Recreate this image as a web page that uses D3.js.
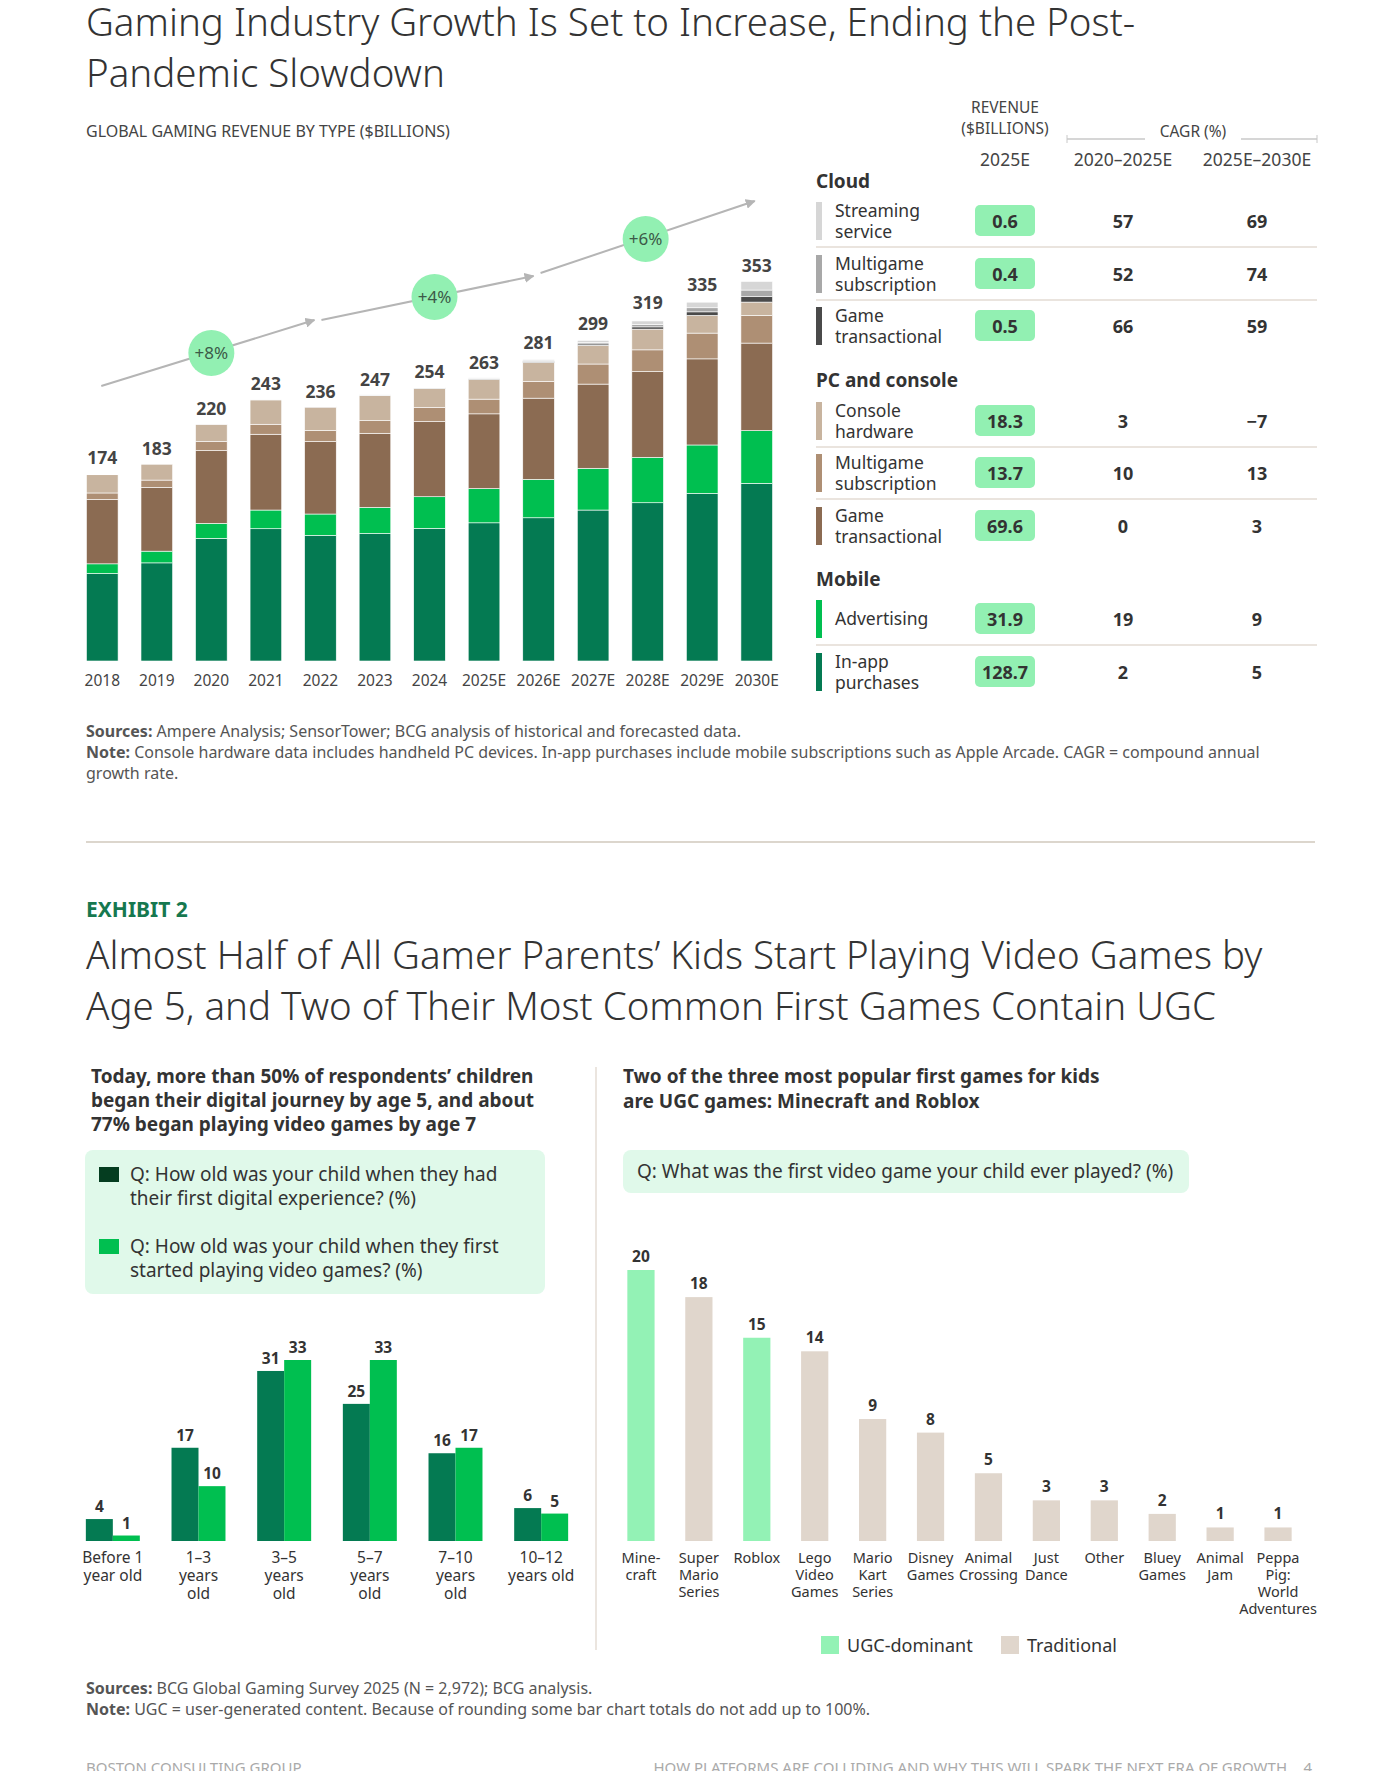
<!DOCTYPE html>
<html>
<head>
<meta charset="utf-8">
<script src="https://cdn.jsdelivr.net/npm/d3@7"></script>
<style>
  body { margin: 0; background: #fff; }
  text { font-family: "Noto Sans", sans-serif; }
</style>
</head>
<body>
<script>
// ---- exhibit 1: stacked revenue bars ----
var years = ["2018","2019","2020","2021","2022","2023","2024","2025E","2026E","2027E","2028E","2029E","2030E"];
var totals = [174,183,220,243,236,247,254,263,281,299,319,335,353];
var inApp      = [81.5,91.4,114.2,123.2,117,118.8,123.5,128.7,133.4,140.6,147.4,156.1,165.5];
var advertising= [9,10.9,14,17.4,19.9,24.3,29.5,31.9,35.8,38.9,42.3,45.1,49.1];
var pcGame     = [60,59.4,67.8,70.6,67.5,69,70,69.6,75.6,78.4,79.9,80.2,81.5];
var pcMulti    = [6,6.8,8.4,9.3,10.3,11.8,13.1,13.7,15.6,18.7,20.2,24,25.8];
var consoleHw  = [17,14.9,16.2,22.7,21.8,23.3,17.7,18.3,17.7,17.4,19.3,16.5,12.4];
var cloudGame  = [0,0,0.05,0.1,0.15,0.2,0.3,0.5,0.8,1.3,2.1,3.3,5];
var cloudMulti = [0,0,0.05,0.1,0.15,0.2,0.3,0.4,0.7,1.3,2.3,3.8,6.2];
var cloudStream= [0.05,0.05,0.06,0.1,0.2,0.3,0.4,0.6,1.1,2.0,3.2,5.2,8];
var growthLabels = ["+8%","+4%","+6%"];

// table
var tableGroups = ["Cloud","PC and console","Mobile"];
var tableNames = [["Streaming","service"],["Multigame","subscription"],["Game","transactional"],
  ["Console","hardware"],["Multigame","subscription"],["Game","transactional"],
  ["Advertising"],["In-app","purchases"]];
var tableGroupOf = [0,0,0,1,1,1,2,2];
var revenue2025 = ["0.6","0.4","0.5","18.3","13.7","69.6","31.9","128.7"];
var cagr2020 = ["57","52","66","3","10","0","19","2"];
var cagr2025 = ["69","74","59","\u22127","13","3","9","5"];

// ---- exhibit 2 ----
var ageGroups = [["Before 1","year old"],["1\u20133","years","old"],["3\u20135","years","old"],["5\u20137","years","old"],["7\u201310","years","old"],["10\u201312","years old"]];
var firstDigital = [4,17,31,25,16,6];
var firstGame = [1,10,33,33,17,5];

var games = [["Mine-","craft"],["Super","Mario","Series"],["Roblox"],["Lego","Video","Games"],["Mario","Kart","Series"],["Disney","Games"],["Animal","Crossing"],["Just","Dance"],["Other"],["Bluey","Games"],["Animal","Jam"],["Peppa","Pig:","World","Adventures"]];
var gameShare = [20,18,15,14,9,8,5,3,3,2,1,1];
var gameType = ["UGC","Trad","UGC","Trad","Trad","Trad","Trad","Trad","Trad","Trad","Trad","Trad"];

var W = 1400, H = 1771;
var svg = d3.select("body").append("svg").attr("width", W).attr("height", H).attr("fill", "#333");

function multiline(g, lines, x, y, lh, attrs) {
  var t = g.append("text").attr("x", x).attr("y", y);
  for (var k in attrs) t.attr(k, attrs[k]);
  lines.forEach(function(l, i){
    t.append("tspan").attr("x", x).attr("dy", i ? lh : 0).text(l);
  });
  return t;
}

// titles
multiline(svg, ["Gaming Industry Growth Is Set to Increase, Ending the Post-","Pandemic Slowdown"], 86, 36, 51,
  {"font-size": 38.5, "font-weight": 300, "fill": "#333"});
svg.append("text").attr("x", 86).attr("y", 137).attr("font-size", 16).attr("fill", "#444")
  .text("GLOBAL GAMING REVENUE BY TYPE ($BILLIONS)");

// stacked bars
var segColors = ["#047a52","#00bf50","#8b6b52","#ae8f74","#c8b49f","#4a4a4a","#a8a8a8","#d6d6d6"];
var series = [inApp, advertising, pcGame, pcMulti, consoleHw, cloudGame, cloudMulti, cloudStream];
var x = d3.scaleBand().domain(years).range([75, 784]).paddingInner(0.42).paddingOuter(0.21);
var y = d3.scaleLinear().domain([0, 353]).range([661, 282]);
var rows = years.map(function(yr, i){
  var r = {year: yr}; series.forEach(function(s, j){ r["s"+j] = s[i]; }); return r;
});
var stack = d3.stack().keys(series.map(function(s, j){ return "s"+j; }))(rows);
svg.append("g").selectAll("g").data(stack).join("g")
  .attr("fill", function(d, j){ return segColors[j]; })
  .selectAll("rect").data(function(d){ return d; }).join("rect")
  .attr("x", function(d){ return x(d.data.year); })
  .attr("width", x.bandwidth())
  .attr("y", function(d){ return y(d[1]); })
  .attr("height", function(d){ return Math.max(0, y(d[0]) - y(d[1])); })
  .attr("stroke", "#fff").attr("stroke-width", 0.6);

svg.append("g").selectAll("text").data(years).join("text")
  .attr("x", function(d){ return x(d) + x.bandwidth()/2; })
  .attr("y", function(d, i){ return y(totals[i]) - 10; })
  .attr("text-anchor", "middle").attr("font-size", 17.5).attr("font-weight", 700).attr("fill", "#444")
  .text(function(d, i){ return totals[i]; });

var xAxis = svg.append("g").attr("transform", "translate(0,661)")
  .call(d3.axisBottom(x).tickSize(0).tickPadding(14));
xAxis.select(".domain").remove();
xAxis.selectAll("text").attr("font-size", 15.5).attr("fill", "#444").style("font-family", "Noto Sans");

// growth arrows
var cx = function(yr){ return x(yr) + x.bandwidth()/2; };
var arrowSegs = [
  [cx("2018") - 1, 386, cx("2022") - 6, 320],
  [cx("2022") + 1, 320, cx("2026E") - 5, 276],
  [cx("2026E") + 2, 273, cx("2030E") - 2, 201]
];
var defs = svg.append("defs");
defs.append("marker").attr("id", "ah").attr("viewBox", "0 0 10 10").attr("refX", 9).attr("refY", 5)
  .attr("markerWidth", 5).attr("markerHeight", 5).attr("orient", "auto")
  .append("path").attr("d", "M0,0L10,5L0,10z").attr("fill", "#b5b5b5");
svg.append("g").selectAll("line").data(arrowSegs).join("line")
  .attr("x1", function(d){ return d[0]; }).attr("y1", function(d){ return d[1]; })
  .attr("x2", function(d){ return d[2]; }).attr("y2", function(d){ return d[3]; })
  .attr("stroke", "#b5b5b5").attr("stroke-width", 2).attr("marker-end", "url(#ah)");
var circ = [[cx("2020"), 353], [cx("2024") + 5, 297], [cx("2028E") - 2, 239]];
var cg = svg.append("g").selectAll("g").data(circ).join("g")
  .attr("transform", function(d){ return "translate(" + d[0] + "," + d[1] + ")"; });
cg.append("circle").attr("r", 23).attr("fill", "#92f0b2");
cg.append("text").attr("text-anchor", "middle").attr("dy", 6).attr("font-size", 17).attr("fill", "#3c5a48")
  .text(function(d, i){ return growthLabels[i]; });

// table
var tb = svg.append("g");
var colRev = 1005, colA = 1123, colB = 1257;
multiline(tb, ["REVENUE","($BILLIONS)"], colRev, 113, 21, {"font-size": 15.5, "text-anchor": "middle", "fill": "#444"});
tb.append("text").attr("x", 1193).attr("y", 137).attr("font-size", 15.5).attr("text-anchor", "middle").attr("fill", "#444").text("CAGR (%)");
[[1067,1145],[1241,1317]].forEach(function(s){
  tb.append("line").attr("x1", s[0]).attr("x2", s[1]).attr("y1", 139).attr("y2", 139).attr("stroke", "#c8c8c8").attr("stroke-width", 1.5);
});
[1067,1317].forEach(function(v){
  tb.append("line").attr("x1", v).attr("x2", v).attr("y1", 135).attr("y2", 143).attr("stroke", "#c8c8c8");
});
[["2025E", colRev], ["2020\u20132025E", colA], ["2025E\u20132030E", colB]].forEach(function(h){
  tb.append("text").attr("x", h[1]).attr("y", 166).attr("text-anchor", "middle").attr("font-size", 17.5).attr("fill", "#444").text(h[0]);
});
var groupY = [181, 380, 579];
tableGroups.forEach(function(gname, i){
  tb.append("text").attr("x", 816).attr("y", groupY[i] + 7).attr("font-size", 19).attr("font-weight", 700).attr("fill", "#333").text(gname);
});
var rowY = [221, 274, 326, 421, 473, 526, 619, 672];
var keyColors = ["#d6d6d6","#a8a8a8","#4a4a4a","#c8b49f","#ae8f74","#8b6b52","#00bf50","#047a52"];
tableNames.forEach(function(n, i){
  var cy = rowY[i];
  tb.append("rect").attr("x", 816).attr("y", cy - 19).attr("width", 6).attr("height", 38).attr("fill", keyColors[i]);
  if (n.length === 2) multiline(tb, n, 835, cy - 4, 21, {"font-size": 17.5, "fill": "#333"});
  else tb.append("text").attr("x", 835).attr("y", cy + 6).attr("font-size", 17.5).attr("fill", "#333").text(n[0]);
  tb.append("rect").attr("x", 975).attr("y", cy - 16).attr("width", 60).attr("height", 31).attr("rx", 5).attr("fill", "#92f0b2");
  tb.append("text").attr("x", colRev).attr("y", cy + 7).attr("text-anchor", "middle").attr("font-size", 18).attr("font-weight", 700).attr("fill", "#333").text(revenue2025[i]);
  tb.append("text").attr("x", colA).attr("y", cy + 7).attr("text-anchor", "middle").attr("font-size", 18).attr("font-weight", 700).attr("fill", "#333").text(cagr2020[i]);
  tb.append("text").attr("x", colB).attr("y", cy + 7).attr("text-anchor", "middle").attr("font-size", 18).attr("font-weight", 700).attr("fill", "#333").text(cagr2025[i]);
  if (i < tableNames.length - 1 && tableGroupOf[i] === tableGroupOf[i+1])
    tb.append("line").attr("x1", 816).attr("x2", 1317).attr("y1", cy + 26).attr("y2", cy + 26).attr("stroke", "#e3dbd3").attr("stroke-width", 1.5);
});

// notes
function note(yy, bold, rest) {
  var t = svg.append("text").attr("x", 86).attr("y", yy).attr("font-size", 16).attr("fill", "#555");
  if (bold) t.append("tspan").attr("font-weight", 700).text(bold);
  t.append("tspan").text(rest);
}
note(737, "Sources: ", "Ampere Analysis; SensorTower; BCG analysis of historical and forecasted data.");
note(758, "Note: ", "Console hardware data includes handheld PC devices. In-app purchases include mobile subscriptions such as Apple Arcade. CAGR = compound annual");
note(779, "", "growth rate.");
svg.append("line").attr("x1", 86).attr("x2", 1315).attr("y1", 842).attr("y2", 842).attr("stroke", "#dcd6cd").attr("stroke-width", 2);

// exhibit 2 titles
svg.append("text").attr("x", 86).attr("y", 917).attr("font-size", 21).attr("font-weight", 700).attr("fill", "#16784f").text("EXHIBIT 2");
multiline(svg, ["Almost Half of All Gamer Parents\u2019 Kids Start Playing Video Games by","Age 5, and Two of Their Most Common First Games Contain UGC"], 86, 969, 51,
  {"font-size": 38.5, "font-weight": 300, "fill": "#333"});

// left panel
multiline(svg, ["Today, more than 50% of respondents\u2019 children","began their digital journey by age 5, and about","77% began playing video games by age 7"], 91, 1083, 24,
  {"font-size": 19, "font-weight": 700, "fill": "#333"});
svg.append("rect").attr("x", 85).attr("y", 1150).attr("width", 460).attr("height", 144).attr("rx", 8).attr("fill", "#e0f9ea");
svg.append("rect").attr("x", 99).attr("y", 1167).attr("width", 20).attr("height", 15).attr("fill", "#053d20");
svg.append("rect").attr("x", 99).attr("y", 1239).attr("width", 20).attr("height", 15).attr("fill", "#00bf50");
multiline(svg, ["Q: How old was your child when they had","their first digital experience? (%)"], 130, 1181, 24, {"font-size": 19, "fill": "#333"});
multiline(svg, ["Q: How old was your child when they first","started playing video games? (%)"], 130, 1253, 24, {"font-size": 19, "fill": "#333"});

var ageKeys = ageGroups.map(function(d){ return d.join(" "); });
var x0 = d3.scaleBand().domain(ageKeys).range([70, 584]).paddingInner(0.37).paddingOuter(0.185);
var x1 = d3.scaleBand().domain(["a","b"]).range([0, x0.bandwidth()]);
var yl = d3.scaleLinear().domain([0, 33]).range([1541, 1360]);
var ageRows = ageKeys.map(function(k, i){ return [{k: k, s: "a", v: firstDigital[i]}, {k: k, s: "b", v: firstGame[i]}]; });
var ag = svg.append("g").selectAll("g").data(ageRows).join("g");
ag.selectAll("rect").data(function(d){ return d; }).join("rect")
  .attr("x", function(d){ return x0(d.k) + x1(d.s); })
  .attr("width", x1.bandwidth())
  .attr("y", function(d){ return yl(d.v); })
  .attr("height", function(d){ return yl(0) - yl(d.v); })
  .attr("fill", function(d){ return d.s === "a" ? "#047a52" : "#00bf50"; });
ag.selectAll("text").data(function(d){ return d; }).join("text")
  .attr("x", function(d){ return x0(d.k) + x1(d.s) + x1.bandwidth()/2; })
  .attr("y", function(d){ return yl(d.v) - 7; })
  .attr("text-anchor", "middle").attr("font-size", 15.5).attr("font-weight", 700).attr("fill", "#333")
  .text(function(d){ return d.v; });
ageGroups.forEach(function(lines, i){
  multiline(svg, lines, x0(ageKeys[i]) + x0.bandwidth()/2, 1563, 18, {"font-size": 15.5, "text-anchor": "middle", "fill": "#333"});
});

svg.append("line").attr("x1", 596).attr("x2", 596).attr("y1", 1067).attr("y2", 1650).attr("stroke", "#e5ddd5").attr("stroke-width", 1.5);

// right panel
multiline(svg, ["Two of the three most popular first games for kids","are UGC games: Minecraft and Roblox"], 623, 1083, 25,
  {"font-size": 19, "font-weight": 700, "fill": "#333"});
svg.append("rect").attr("x", 623).attr("y", 1150).attr("width", 566).attr("height", 43).attr("rx", 8).attr("fill", "#e0f9ea");
svg.append("text").attr("x", 637).attr("y", 1178).attr("font-size", 19).attr("fill", "#333").text("Q: What was the first video game your child ever played? (%)");

var gameKeys = games.map(function(d){ return d.join(" "); });
var xg = d3.scaleBand().domain(gameKeys).range([612, 1307]).paddingInner(0.53).paddingOuter(0.265);
var yg = d3.scaleLinear().domain([0, 20]).range([1541, 1270]);
var gcol = {UGC: "#93f2b5", Trad: "#e0d6cc"};
svg.append("g").selectAll("rect").data(gameKeys).join("rect")
  .attr("x", function(d){ return xg(d); }).attr("width", xg.bandwidth())
  .attr("y", function(d, i){ return yg(gameShare[i]); })
  .attr("height", function(d, i){ return yg(0) - yg(gameShare[i]); })
  .attr("fill", function(d, i){ return gcol[gameType[i]]; });
svg.append("g").selectAll("text").data(gameKeys).join("text")
  .attr("x", function(d){ return xg(d) + xg.bandwidth()/2; })
  .attr("y", function(d, i){ return yg(gameShare[i]) - 8; })
  .attr("text-anchor", "middle").attr("font-size", 15.5).attr("font-weight", 700).attr("fill", "#333")
  .text(function(d, i){ return gameShare[i]; });
games.forEach(function(lines, i){
  multiline(svg, lines, xg(gameKeys[i]) + xg.bandwidth()/2, 1563, 17, {"font-size": 14.5, "text-anchor": "middle", "fill": "#333"});
});
[["UGC-dominant", gcol.UGC, 821], ["Traditional", gcol.Trad, 1001]].forEach(function(l){
  svg.append("rect").attr("x", l[2]).attr("y", 1636).attr("width", 18).attr("height", 18).attr("fill", l[1]);
  svg.append("text").attr("x", l[2] + 26).attr("y", 1652).attr("font-size", 18).attr("fill", "#333").text(l[0]);
});

note(1694, "Sources: ", "BCG Global Gaming Survey 2025 (N = 2,972); BCG analysis.");
note(1715, "Note: ", "UGC = user-generated content. Because of rounding some bar chart totals do not add up to 100%.");

// footer
svg.append("text").attr("x", 86).attr("y", 1773).attr("font-size", 15).attr("fill", "#aaa").text("BOSTON CONSULTING GROUP");
svg.append("text").attr("x", 1287).attr("y", 1773).attr("text-anchor", "end").attr("font-size", 15).attr("fill", "#aaa")
  .text("HOW PLATFORMS ARE COLLIDING AND WHY THIS WILL SPARK THE NEXT ERA OF GROWTH");
svg.append("text").attr("x", 1312).attr("y", 1773).attr("text-anchor", "end").attr("font-size", 15).attr("fill", "#aaa").text("4");
</script>
</body>
</html>
